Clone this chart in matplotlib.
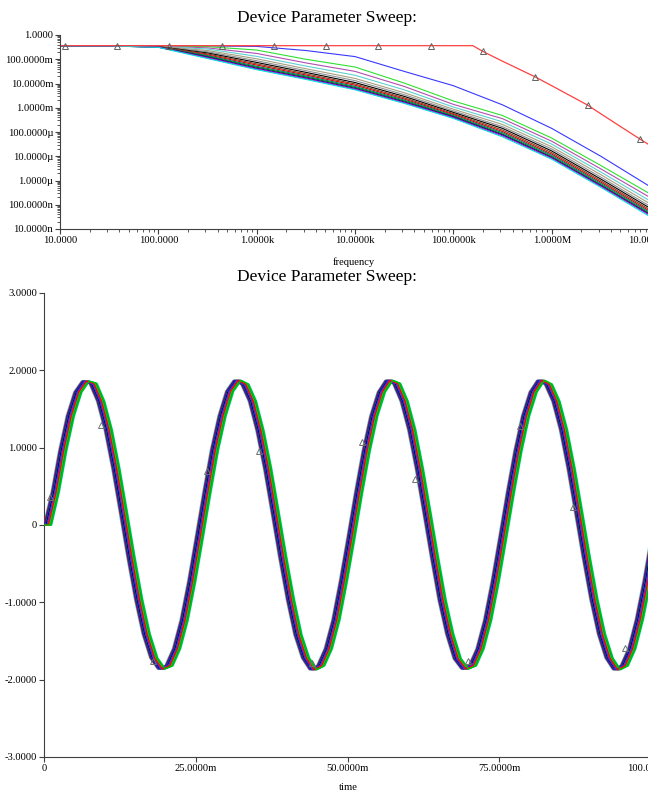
import numpy as np
import matplotlib
matplotlib.use("Agg")
import matplotlib.pyplot as plt
from matplotlib.ticker import LogLocator, NullFormatter

plt.rcParams['font.family'] = ['Liberation Serif', 'DejaVu Serif']

# ---------------- AC sweep (top panel) ----------------
# magnitudes stored as log10 values
freq_hz = [10, 31.6, 100, 316, 1e3, 3.16e3, 1e4, 3.16e4, 1e5, 3.16e5, 1e6, 3.16e6, 1e7]

ac_curves = {
    'blue':    [-0.45, -0.45, -0.45, -0.45, -0.47, -0.64, -0.89, -1.50, -2.09, -2.88, -3.85, -5.00, -6.25],
    'green':   [-0.45, -0.45, -0.45, -0.48, -0.62, -1.00, -1.32, -1.98, -2.72, -3.32, -4.25, -5.38, -6.55],
    'purple':  [-0.45, -0.45, -0.46, -0.53, -0.76, -1.15, -1.50, -2.12, -2.86, -3.45, -4.38, -5.52, -6.70],
    'ltcyan':  [-0.45, -0.45, -0.46, -0.58, -0.88, -1.28, -1.66, -2.26, -2.97, -3.58, -4.50, -5.65, -6.84],
    'tan':     [-0.45, -0.45, -0.47, -0.64, -0.98, -1.39, -1.79, -2.38, -3.06, -3.69, -4.61, -5.76, -6.96],
    'gray':    [-0.45, -0.45, -0.47, -0.69, -1.06, -1.47, -1.88, -2.46, -3.13, -3.78, -4.70, -5.86, -7.06],
    'black':   [-0.45, -0.45, -0.48, -0.74, -1.13, -1.54, -1.96, -2.53, -3.19, -3.85, -4.78, -5.94, -7.14],
    'brown':   [-0.45, -0.45, -0.48, -0.78, -1.19, -1.60, -2.02, -2.59, -3.24, -3.92, -4.85, -6.01, -7.21],
    'red2':    [-0.45, -0.45, -0.49, -0.82, -1.24, -1.65, -2.07, -2.64, -3.28, -3.98, -4.91, -6.07, -7.27],
    'teal':    [-0.45, -0.45, -0.49, -0.85, -1.29, -1.69, -2.12, -2.68, -3.32, -4.03, -4.96, -6.12, -7.32],
    'dkgreen': [-0.45, -0.45, -0.50, -0.88, -1.33, -1.73, -2.16, -2.72, -3.35, -4.08, -5.01, -6.17, -7.37],
    'navy':    [-0.45, -0.45, -0.50, -0.91, -1.37, -1.77, -2.20, -2.76, -3.38, -4.12, -5.05, -6.21, -7.41],
    'magenta': [-0.45, -0.45, -0.50, -0.94, -1.40, -1.80, -2.23, -2.79, -3.41, -4.16, -5.08, -6.24, -7.44],
    'cyan':    [-0.45, -0.45, -0.51, -0.97, -1.43, -1.83, -2.26, -2.82, -3.44, -4.20, -5.12, -6.28, -7.49],
}
ac_colors = {
    'blue': '#3838ff', 'green': '#30e030', 'purple': '#b050b0', 'ltcyan': '#60d0d0',
    'tan': '#a8a080', 'gray': '#909090', 'black': '#000000', 'brown': '#804020',
    'red2': '#e00000', 'teal': '#008080', 'dkgreen': '#008000', 'navy': '#0000a0',
    'magenta': '#c000c0', 'cyan': '#00e0e0',
}

# first trace (red) has its own break points
red_freq = [10, 1e3, 1e5, 1.58e5, 2.0e5, 3.16e5, 6.82e5, 1e6, 2.32e6, 3.16e6, 7.89e6, 1e7]
red_log = [-0.44, -0.44, -0.44, -0.44, -0.68, -1.08, -1.73, -2.09, -2.89, -3.25, -4.29, -4.55]
red_mark_freq = [11.2, 38.1, 129.6, 440, 1.50e3, 5.10e3, 1.73e4, 5.89e4, 2.00e5, 6.82e5, 2.32e6, 7.89e6]
red_mark_log = [-0.44, -0.44, -0.44, -0.44, -0.44, -0.44, -0.44, -0.44, -0.68, -1.73, -2.89, -4.29]

freq_ticks = [10, 100, 1e3, 1e4, 1e5, 1e6, 1e7]
freq_labels = ['10.0000', '100.0000', '1.0000k', '10.0000k', '100.0000k', '1.0000M', '10.0000M']
mag_ticks = [1e-8, 1e-7, 1e-6, 1e-5, 1e-4, 1e-3, 1e-2, 1e-1, 1]
mag_labels = ['10.0000n', '100.0000n', '1.0000\u00b5', '10.0000\u00b5', '100.0000\u00b5',
              '1.0000m', '10.0000m', '100.0000m', '1.0000']

# ---------------- transient sweep (bottom panel) ----------------
wave_t_ms = np.arange(0, 100.01, 1.25)
wave_v = [0.00,
          0.42, 0.96, 1.41, 1.72, 1.86, 1.83, 1.60, 1.23, 0.73, 0.16,
          -0.42, -0.96, -1.41, -1.72, -1.86, -1.82, -1.60, -1.23, -0.73, -0.16,
          0.42, 0.97, 1.41, 1.73, 1.87, 1.82, 1.60, 1.22, 0.73, 0.16,
          -0.42, -0.96, -1.42, -1.72, -1.87, -1.82, -1.60, -1.23, -0.72, -0.16,
          0.42, 0.96, 1.41, 1.72, 1.87, 1.83, 1.60, 1.23, 0.73, 0.16,
          -0.42, -0.97, -1.41, -1.73, -1.86, -1.82, -1.60, -1.23, -0.73, -0.16,
          0.42, 0.96, 1.41, 1.72, 1.87, 1.82, 1.60, 1.23, 0.73, 0.16,
          -0.42, -0.96, -1.41, -1.72, -1.87, -1.82, -1.60, -1.22, -0.73, -0.16]
# delay of each swept trace relative to the first one (ms)
sweep_lag_ms = [0.00, 0.55, 0.20, 0.95, 0.40, 0.70, 1.10, 0.30, 0.85, 0.15, 0.60, 1.00,
                0.45, 0.75, 0.25, 0.90, 0.50, 1.15, 0.35, 0.65, 0.80, 0.10, 1.05, 0.58,
                0.88, 0.48, 0.72, 1.20, -0.10, 1.28]
tran_colors = ['#ff0000', '#00c000', '#0000ff', '#ff00ff', '#00c8c8', '#000000', '#808000',
               '#909090', '#2020c0', '#008080', '#b050b0', '#00e000', '#3030ff']
edge_colors = ['#40e0e0', '#40e0e0']
tran_mark_t = [1.0, 9.4, 18.0, 26.9, 35.5, 44.2, 52.4, 61.1, 69.8, 78.4, 87.2, 95.7]
tran_mark_v = [0.36, 1.29, -1.76, 0.70, 0.96, -1.78, 1.07, 0.60, -1.76, 1.28, 0.23, -1.59]

time_ticks = [0, 25, 50, 75, 100]
time_labels = ['0', '25.0000m', '50.0000m', '75.0000m', '100.0000m']
volt_ticks = [-3, -2, -1, 0, 1, 2, 3]
volt_labels = ['-3.0000', '-2.0000', '-1.0000', '0', '1.0000', '2.0000', '3.0000']


def style_axis(ax):
    ax.spines['top'].set_visible(False)
    ax.spines['right'].set_visible(False)
    ax.spines['left'].set_color('#404040')
    ax.spines['bottom'].set_color('#404040')
    ax.tick_params(which='major', direction='out', length=3.5, width=0.8, labelsize=7.6,
                   color='#404040', pad=1.5)
    ax.tick_params(which='minor', direction='out', length=2, width=0.6, color='#404040')


fig = plt.figure(figsize=(6.48, 7.96), dpi=100)

ax1 = fig.add_axes([60 / 648, 1 - 229 / 796, 590 / 648, 194 / 796])
for name, vals in ac_curves.items():
    ax1.plot(freq_hz, np.power(10.0, vals), color=ac_colors[name], lw=0.8)
ax1.plot(red_freq, np.power(10.0, red_log), color='#ff4040', lw=0.9)
ax1.plot(red_mark_freq, np.power(10.0, red_mark_log), ls='none', marker='^', ms=4.5,
         mfc='none', mec='#606060', mew=0.7)
ax1.set_xscale('log')
ax1.set_yscale('log')
ax1.set_xlim(10, 1e7)
ax1.set_ylim(1e-8, 1)
ax1.set_xticks(freq_ticks, labels=freq_labels)
ax1.set_yticks(mag_ticks, labels=mag_labels)
ax1.xaxis.set_minor_locator(LogLocator(base=10, subs=np.arange(2, 10), numticks=100))
ax1.yaxis.set_minor_locator(LogLocator(base=10, subs=np.arange(2, 10), numticks=100))
ax1.xaxis.set_minor_formatter(NullFormatter())
ax1.yaxis.set_minor_formatter(NullFormatter())
style_axis(ax1)

ax2 = fig.add_axes([44 / 648, 1 - 757 / 796, 607 / 648, 464 / 796])
n_main = len(sweep_lag_ms) - len(edge_colors)
for i, lag in enumerate(sweep_lag_ms):
    t = np.concatenate([[0.0], wave_t_ms + lag])
    v = np.concatenate([[0.0], wave_v])
    if i < n_main:
        color = tran_colors[i % len(tran_colors)]
        z = 3
    else:
        color = edge_colors[i - n_main]
        z = 2
    ax2.plot(t, v, color=color, lw=1.0, zorder=z)
ax2.plot(tran_mark_t, tran_mark_v, ls='none', marker='^', ms=4, mfc='none',
         mec='#707070', mew=0.7, zorder=4)
ax2.set_xlim(0, 100)
ax2.set_ylim(-3, 3)
ax2.set_xticks(time_ticks, labels=time_labels)
ax2.set_yticks(volt_ticks, labels=volt_labels)
style_axis(ax2)

fig.text(327 / 648, 1 - 18 / 796, 'Device Parameter Sweep:', ha='center', va='center', fontsize=12.5)
fig.text(354 / 648, 1 - 262 / 796, 'frequency', ha='center', va='center', fontsize=7.6)
fig.text(327 / 648, 1 - 277 / 796, 'Device Parameter Sweep:', ha='center', va='center', fontsize=12.5)
fig.text(348 / 648, 1 - 788 / 796, 'time', ha='center', va='center', fontsize=7.6)

fig.savefig('out.png', dpi=100)
